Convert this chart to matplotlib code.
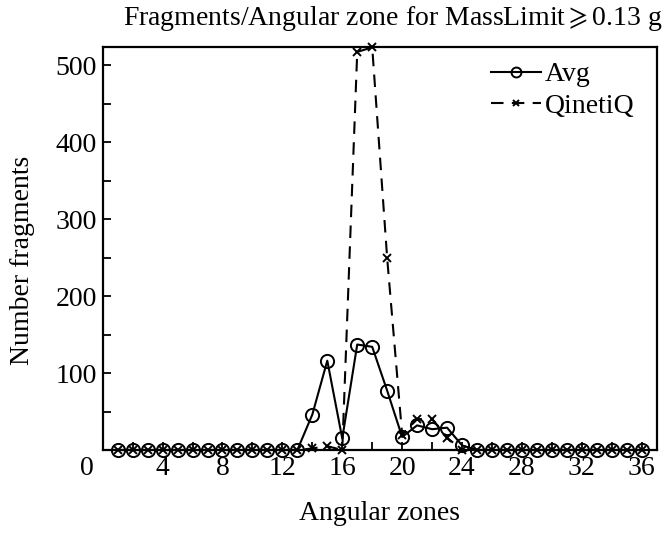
import matplotlib
matplotlib.use('Agg')
import matplotlib.pyplot as plt
from matplotlib.ticker import MultipleLocator

plt.rcParams['font.family'] = ['Liberation Serif', 'DejaVu Serif']
plt.rcParams['mathtext.fontset'] = 'stix'

# Fragment counts per angular zone (zones 1..36)
zones = list(range(1, 37))
avg = [0] * 13 + [46, 116, 15, 137, 134, 77, 17, 32, 27, 29, 6] + [0] * 12
qinetiq = [0] * 13 + [2, 5, 0, 517, 523, 249, 20, 40, 40, 16, 0] + [0] * 12

fs = 20

fig = plt.figure(figsize=(6.69, 5.34), dpi=100)
ax = fig.add_axes([0.1535, 0.1573, 0.9816 - 0.1535, 0.9114 - 0.1573])

ax.plot(zones, avg, '-', color='black', lw=1.5, marker='o', ms=9.5,
        mfc='none', mec='black', mew=1.4, label='Avg', clip_on=False)
ax.plot(zones, qinetiq, '--', color='black', lw=1.5, marker='x', ms=5.5,
        mew=1.4, dashes=(6, 4), label='QinetiQ', clip_on=False)

ax.set_xlim(0, 37)
ax.set_ylim(0, 523)
ax.xaxis.set_minor_locator(MultipleLocator(2))
ax.yaxis.set_minor_locator(MultipleLocator(50))
ax.set_xticks([4, 8, 12, 16, 20, 24, 28, 32, 36])
ax.set_yticks([100, 200, 300, 400, 500])
ax.tick_params(which='both', direction='in', labelsize=fs, width=1.3,
               length=6, pad=4)
for s in ax.spines.values():
    s.set_linewidth(1.6)

# shared origin label sitting at the lower-left corner
ax.annotate('0', xy=(-1.05, 0), xycoords=('data', 'axes fraction'),
            xytext=(0, -4), textcoords='offset points',
            ha='center', va='top', fontsize=fs)

ax.set_xlabel('Angular zones', fontsize=fs, labelpad=15)
ax.set_ylabel('Number fragments', fontsize=fs, labelpad=6)
ax.yaxis.set_label_coords(-0.122, 0.47)
fig.text(0.587, 0.966, 'Fragments/Angular zone for MassLimit$\\geqslant$0.13 g',
         ha='center', va='center', fontsize=fs)

ax.legend(loc='upper right', frameon=False, fontsize=fs, markerscale=0.75,
          handlelength=1.8, handletextpad=0.15, labelspacing=0.22,
          borderaxespad=0.2, bbox_to_anchor=(0.99, 1.005))

fig.savefig('out.png', dpi=100)
